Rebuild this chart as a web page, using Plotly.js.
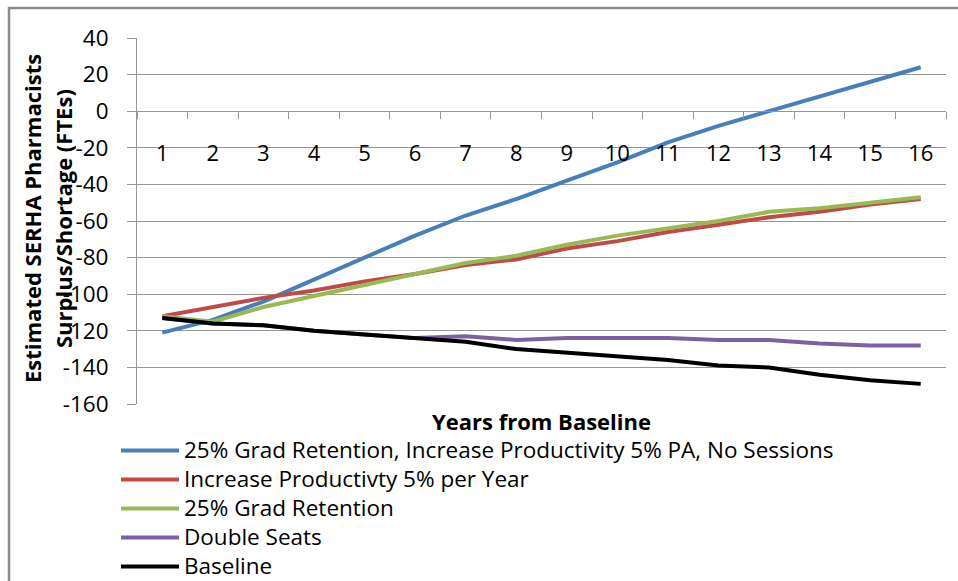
<!DOCTYPE html>
<html>
<head>
<meta charset="utf-8">
<script src="https://cdn.plot.ly/plotly-3.0.1.min.js"></script>
<style>
  html, body { margin: 0; padding: 0; background: #ffffff; }
  #chart { width: 958px; height: 581px; }
</style>
</head>
<body>
<div id="chart"></div>
<script>
// ---- data ----
var years = ["1","2","3","4","5","6","7","8","9","10","11","12","13","14","15","16"];

var seriesNames = [
  "25% Grad Retention, Increase Productivity 5% PA, No Sessions",
  "Increase Productivty 5% per Year",
  "25% Grad Retention",
  "Double Seats",
  "Baseline"
];

var gradRetentionProductivity = [-121,-114,-104,-92,-80,-68,-57,-48,-38,-28,-17,-8,0,8,16,24];
var increaseProductivity      = [-112,-107,-102,-98,-93,-89,-84,-81,-75,-71,-66,-62,-58,-55,-51,-48];
var gradRetention             = [-112,-115,-107,-101,-95,-89,-83,-79,-73,-68,-64,-60,-55,-53,-50,-47];
var doubleSeats               = [-113,-116,-117,-120,-122,-124,-123,-125,-124,-124,-124,-125,-125,-127,-128,-128];
var baseline                  = [-113,-116,-117,-120,-122,-124,-126,-130,-132,-134,-136,-139,-140,-144,-147,-149];

var yTickValues = [40,20,0,-20,-40,-60,-80,-100,-120,-140,-160];

var xTitle = "Years from Baseline";
var yTitleLines = ["Estimated SERHA Pharmacists", "Surplus/Shortage (FTEs)"];

// ---- styling ----
var colors = ["#4A7EBB", "#BE4B48", "#98B954", "#7D60A0", "#000000"];
var values = [gradRetentionProductivity, increaseProductivity, gradRetention, doubleSeats, baseline];
var FONT = "Open Sans, Liberation Sans, sans-serif";
var GRID = "#969696";

var traces = values.map(function (v, i) {
  return {
    type: "scatter",
    mode: "lines",
    x: years,
    y: v,
    // legend row spacing comes from legend.font.size; the entry text itself is a bit larger
    name: '<span style="font-size:22.5px">' + seriesNames[i] + '</span>',
    line: { color: colors[i], width: 4 },
    hovertemplate: seriesNames[i] + "<br>Year %{x}: %{y}<extra></extra>"
  };
});

// plot area: x 137..946 px, y 38..404 px
var L = 137, R = 12, T = 38, B = 177;
var PW = 958 - L - R, PH = 581 - T - B;
function px(xpix) { return (xpix - L) / PW; }
function py(ypix) { return (T + PH - ypix) / PH; }

var layout = {
  width: 958,
  height: 581,
  margin: { l: L, r: R, t: T, b: B, pad: 0, autoexpand: false },
  paper_bgcolor: "#ffffff",
  plot_bgcolor: "#ffffff",
  font: { family: FONT, size: 20, color: "#000000" },
  showlegend: true,
  legend: {
    x: px(116),
    y: py(431),
    xanchor: "left",
    yanchor: "top",
    orientation: "v",
    bgcolor: "rgba(0,0,0,0)",
    borderwidth: 0,
    itemwidth: 58,
    font: { family: FONT, size: 20, color: "#000000" },
    traceorder: "normal"
  },
  xaxis: {
    type: "category",
    range: [-0.5, 15.5],
    anchor: "free",
    position: 0.8,
    showline: true,
    linecolor: GRID,
    linewidth: 1,
    showgrid: false,
    zeroline: false,
    ticks: "outside",
    tickson: "boundaries",
    ticklen: 7,
    tickcolor: GRID,
    tickwidth: 1,
    ticklabelstandoff: 22,
    tickfont: { family: FONT, size: 22, color: "#000000" },
    fixedrange: true
  },
  yaxis: {
    range: [-160, 40],
    tickmode: "array",
    tickvals: yTickValues,
    ticktext: yTickValues.map(String),
    showline: true,
    linecolor: GRID,
    linewidth: 1,
    showgrid: true,
    gridcolor: GRID,
    gridwidth: 1,
    zeroline: false,
    ticks: "outside",
    ticklen: 9,
    tickcolor: GRID,
    tickwidth: 1,
    ticklabelstandoff: 14,
    tickfont: { family: FONT, size: 22.5, color: "#000000" },
    fixedrange: true
  },
  annotations: [
    {
      text: "<b>" + xTitle + "</b>",
      xref: "paper", yref: "paper",
      x: px(541), y: py(421),
      xanchor: "center", yanchor: "middle",
      showarrow: false,
      font: { family: FONT, size: 22, color: "#000000" }
    },
    {
      text: "<b>" + yTitleLines[0] + "</b>",
      xref: "paper", yref: "paper",
      x: px(32), y: py(219),
      xanchor: "center", yanchor: "middle",
      textangle: -90,
      showarrow: false,
      font: { family: FONT, size: 22, color: "#000000" }
    },
    {
      text: "<b>" + yTitleLines[1] + "</b>",
      xref: "paper", yref: "paper",
      x: px(63), y: py(219),
      xanchor: "center", yanchor: "middle",
      textangle: -90,
      showarrow: false,
      font: { family: FONT, size: 22, color: "#000000" }
    }
  ],
  shapes: [
    {
      type: "rect",
      xref: "paper", yref: "paper",
      x0: px(9), x1: px(1000),
      y0: py(8), y1: py(640),
      line: { color: "#8c8c8c", width: 2.5 },
      fillcolor: "rgba(0,0,0,0)",
      layer: "below"
    }
  ]
};

Plotly.newPlot("chart", traces, layout, { displayModeBar: false, responsive: false });
</script>
</body>
</html>
